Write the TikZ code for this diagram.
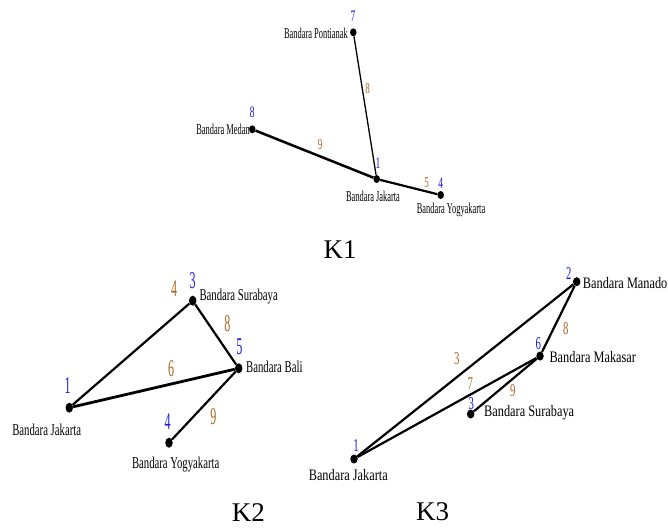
\documentclass[tikz,border=0pt]{standalone}
\usepackage{fontspec}
\setmainfont{Liberation Serif}
\newfontfamily\fa[FakeStretch=0.56]{Liberation Serif}
\newfontfamily\fd[FakeStretch=0.65]{Liberation Serif}
\newfontfamily\fe[FakeStretch=0.6]{Liberation Serif}
\newfontfamily\fb[FakeStretch=0.77]{Liberation Serif}
\newfontfamily\fc[FakeStretch=0.5]{Liberation Serif}
\usetikzlibrary{shapes.geometric}
\definecolor{numblue}{RGB}{25,25,235}
\definecolor{wtbrown}{RGB}{170,100,35}
\tikzset{
  dot/.style={ellipse, fill=black, inner sep=0pt, minimum width=7pt, minimum height=8.5pt},
  lbl/.style={inner sep=0pt, text=black},
  lblA/.style={lbl, font=\fa\fontsize{15}{17}\selectfont},
  lblB/.style={lbl, font=\fd\fontsize{16.5}{18}\selectfont},
  lblC/.style={lbl, font=\fb\fontsize{16}{18}\selectfont},
  numA/.style={inner sep=0pt, text=numblue, font=\fe\fontsize{16}{18}\selectfont},
  wtA/.style={inner sep=0pt, text=wtbrown, font=\fe\fontsize{15}{18}\selectfont},
  numB/.style={inner sep=0pt, text=numblue, font=\fc\fontsize{24}{26}\selectfont},
  wtB/.style={inner sep=0pt, text=wtbrown, font=\fc\fontsize{24}{26}\selectfont},
  numC/.style={inner sep=0pt, text=numblue, font=\fe\fontsize{18}{20}\selectfont},
  wtC/.style={inner sep=0pt, text=wtbrown, font=\fe\fontsize{18}{20}\selectfont},
  title/.style={inner sep=0pt, font=\fontsize{27}{30}\selectfont},
  thin/.style={line width=1.3pt},
  mid/.style={line width=2.2pt},
  thick/.style={line width=2.8pt}
}
\begin{document}
\begin{tikzpicture}[x=1pt,y=-1pt]
\useasboundingbox (0,0) rectangle (668,527);
% ---------- K1 ----------
\node[dot, minimum width=6.5pt, minimum height=8pt] (pon) at (353.3,32.3) {};
\node[dot, minimum width=6.5pt, minimum height=8pt] (med) at (252.3,129.3) {};
\node[dot, minimum width=6.5pt, minimum height=8pt] (jk1) at (376.7,179) {};
\node[dot, minimum width=6.5pt, minimum height=8pt] (yo1) at (440.7,195) {};
\draw[thin] (pon) -- (jk1);
\draw[line width=2.5pt] (med) -- (jk1);
\draw[mid] (jk1) -- (yo1);
\node[lblA, anchor=east] (tpon) at (348,33.5) {Bandara Pontianak};
\node[numA] (npon) at (353,16) {7};
\node[lblA, anchor=east] (tmed) at (250,129.5) {Bandara Medan};
\node[numA] (nmed) at (252.3,112) {8};
\node[lblA] (tjk1) at (373,196) {Bandara Jakarta};
\node[numA] (njk1) at (378,163) {1};
\node[lblA] (tyo1) at (451,209.5) {Bandara Yogyakarta};
\node[numA] (nyo1) at (440.7,183) {4};
\node[wtA] (w1a) at (367.7,89) {8};
\node[wtA] (w1b) at (320,145) {9};
\node[wtA] (w1c) at (426.7,183) {5};
\node[title] (k1) at (340,250) {K1};
% ---------- K2 ----------
\node[dot, minimum width=7.5pt, minimum height=10pt] (sb2) at (192.7,300.7) {};
\node[dot, minimum width=7.5pt, minimum height=10pt] (bal) at (238.7,368.3) {};
\node[dot, minimum width=7.5pt, minimum height=10pt] (jk2) at (69.3,407.7) {};
\node[dot, minimum width=7.5pt, minimum height=10pt] (yo2) at (169,442.7) {};
\draw[mid] (jk2) -- (sb2);
\draw[mid] (sb2) -- (bal);
\draw[thick] (jk2) -- (bal);
\draw[mid] (bal) -- (yo2);
\node[lblB, anchor=west] (tsb2) at (199.3,296.5) {Bandara Surabaya};
\node[numB] (nsb2) at (192.7,280.5) {3};
\node[wtB] (w2a) at (174,289) {4};
\node[lblB, anchor=west] (tbal) at (246,367) {Bandara Bali};
\node[numB] (nbal) at (239.3,347) {5};
\node[lblB] (tjk2) at (46.7,429.5) {Bandara Jakarta};
\node[numB] (njk2) at (67.7,386) {1};
\node[lblB] (tyo2) at (175.7,465) {Bandara Yogyakarta};
\node[numB] (nyo2) at (167.7,422) {4};
\node[wtB] (w2b) at (227.3,323.3) {8};
\node[wtB] (w2c) at (171,368.3) {6};
\node[wtB] (w2d) at (213.3,416.7) {9};
\node[title] (k2) at (248.3,513) {K2};
% ---------- K3 ----------
\node[dot, minimum width=7.5pt, minimum height=9pt] (man) at (576.7,281.7) {};
\node[dot, minimum width=7.5pt, minimum height=9pt] (mak) at (540,356) {};
\node[dot, minimum width=7.5pt, minimum height=9pt] (sb3) at (470.7,414) {};
\node[dot, minimum width=7.5pt, minimum height=9pt] (jk3) at (354,459) {};
\draw[mid] (jk3) -- (man);
\draw[mid] (man) -- (mak);
\draw[mid] (mak) -- (jk3);
\draw[mid] (mak) -- (sb3);
\node[lblC, anchor=west] (tman) at (582.7,283.3) {Bandara Manado};
\node[numC] (nman) at (568.7,274) {2};
\node[lblC, anchor=west] (tmak) at (549.3,357.3) {Bandara Makasar};
\node[numC] (nmak) at (538.3,344) {6};
\node[lblC, anchor=west] (tsb3) at (484,412.7) {Bandara Surabaya};
\node[numC] (nsb3) at (471.3,403.5) {3};
\node[lblC] (tjk3) at (348.3,475) {Bandara Jakarta};
\node[numC] (njk3) at (356,445.5) {1};
\node[wtC] (w3a) at (456.7,359) {3};
\node[wtC] (w3b) at (470.3,384) {7};
\node[wtC] (w3c) at (512.7,391) {9};
\node[wtC] (w3d) at (565.7,329) {8};
\node[title] (k3) at (432.7,512) {K3};
\end{tikzpicture}
\end{document}
